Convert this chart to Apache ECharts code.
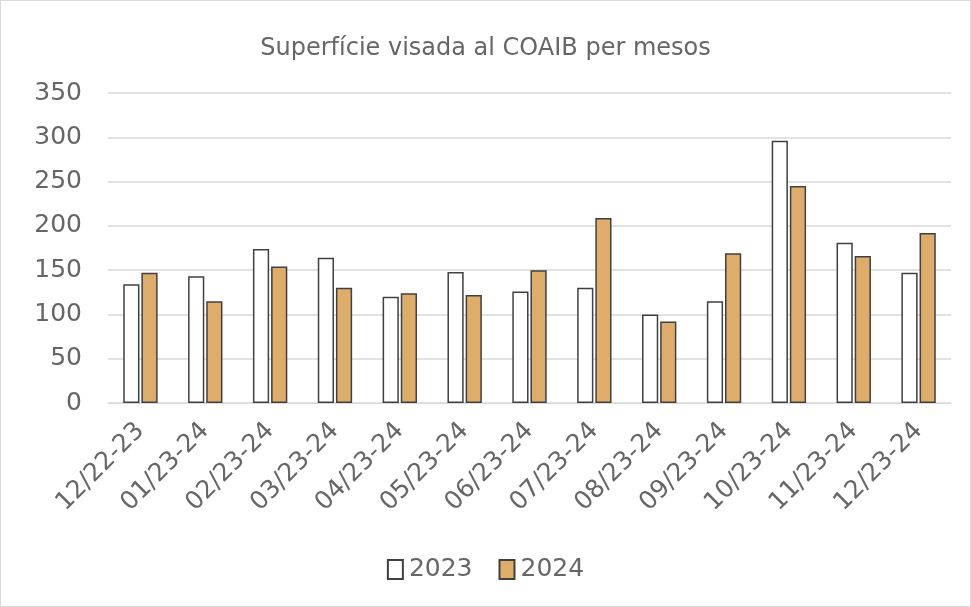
<!DOCTYPE html>
<html>
<head>
<meta charset="utf-8">
<script src="https://cdn.jsdelivr.net/npm/echarts@6/dist/echarts.min.js"></script>
<style>
  html, body { margin: 0; padding: 0; background: #fff; }
  #main { width: 971px; height: 607px; box-sizing: border-box; border: 1px solid #d9d9d9; }
</style>
</head>
<body>
<div id="main"></div>
<script>
var months = ['12/22-23', '01/23-24', '02/23-24', '03/23-24', '04/23-24', '05/23-24', '06/23-24',
              '07/23-24', '08/23-24', '09/23-24', '10/23-24', '11/23-24', '12/23-24'];
var values2023 = [134, 143, 174, 164, 120, 148, 126, 130, 100, 115, 296, 181, 147];
var values2024 = [147, 115, 154, 130, 124, 122, 150, 209, 92, 169, 245, 166, 192];

var myChart = echarts.init(document.getElementById('main'));
var txt = '#666666';
var font = 'DejaVu Sans';

option = {
    animation: false,
    title: {
        text: 'Superfície visada al COAIB per mesos',
        left: 'center',
        top: 31,
        textStyle: { color: txt, fontSize: 24, fontWeight: 'normal', fontFamily: font }
    },
    legend: {
        bottom: 19,
        left: 'center',
        icon: 'rect',
        itemWidth: 15,
        itemHeight: 19,
        itemGap: 26,
        textStyle: { color: txt, fontSize: 25, fontFamily: font, padding: [0, 0, 0, 1] },
        data: ['2023', '2024']
    },
    grid: { left: 107, right: 19, top: 92, bottom: 203 },
    xAxis: {
        type: 'category',
        data: months,
        axisLine: { lineStyle: { color: '#d9d9d9' } },
        axisTick: { show: false },
        axisLabel: { rotate: 45, color: txt, fontSize: 25, fontFamily: font, margin: 24, interval: 0 }
    },
    yAxis: {
        type: 'value',
        min: 0,
        max: 350,
        interval: 50,
        axisLabel: { color: txt, fontSize: 25, fontFamily: font, margin: 26 },
        splitLine: { lineStyle: { color: '#d9d9d9', width: 1.5 } }
    },
    series: [
        {
            name: '2023',
            type: 'bar',
            data: values2023,
            barWidth: '25%',
            barGap: '12%',
            itemStyle: { color: '#ffffff', borderColor: '#404040', borderWidth: 1.5 }
        },
        {
            name: '2024',
            type: 'bar',
            data: values2024,
            barWidth: '25%',
            itemStyle: { color: '#DEAD6B', borderColor: '#404040', borderWidth: 1.5 }
        }
    ]
};

myChart.setOption(option);
</script>
</body>
</html>
